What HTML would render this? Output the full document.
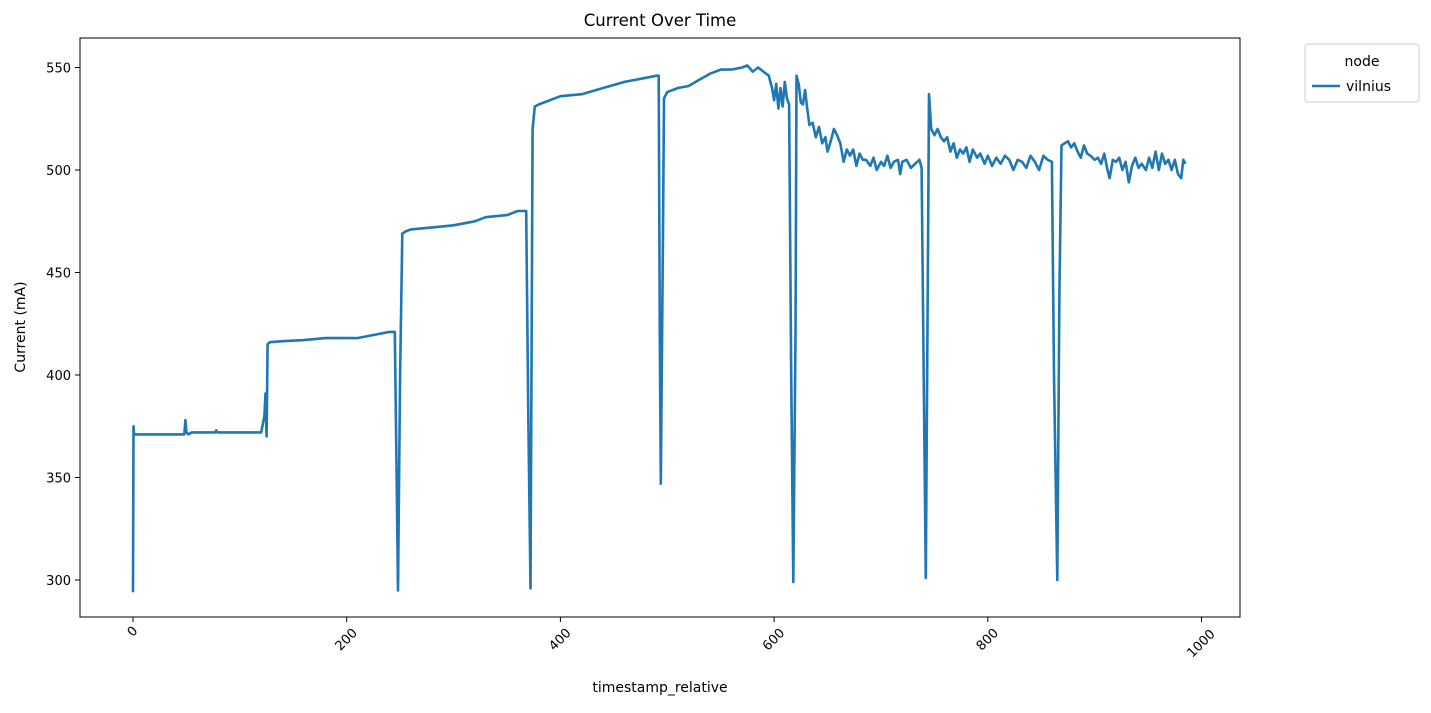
<!DOCTYPE html>
<html><head><meta charset="utf-8"><style>
body{margin:0;background:#fff;font-family:"Liberation Sans","DejaVu Sans",sans-serif;}
svg text{font-family:"DejaVu Sans","Liberation Sans",sans-serif;fill:#000;}
</style></head><body>
<svg id="chart" width="1431" height="708" xmlns="http://www.w3.org/2000/svg">
<rect width="1431" height="708" fill="#fff"/>
<text x="660" y="26" font-size="16.5" text-anchor="middle">Current Over Time</text>
<g id="axes"></g>
<path id="series" fill="none" stroke="#1f77b4" stroke-width="2.6" stroke-linejoin="round"/>
<rect x="80" y="38" width="1160" height="579" fill="none" stroke="#000" stroke-width="1"/>
<text x="660" y="692" font-size="14" text-anchor="middle">timestamp_relative</text>
<text transform="translate(25,327) rotate(-90)" font-size="14" text-anchor="middle">Current (mA)</text>
<g>
<rect x="1305" y="44" width="114" height="58" rx="3" fill="#fff" stroke="#ccc"/>
<text x="1362" y="66" font-size="14" text-anchor="middle">node</text>
<line x1="1312" y1="86" x2="1340" y2="86" stroke="#1f77b4" stroke-width="2.6"/>
<text x="1346" y="91" font-size="14">vilnius</text>
</g>
</svg>
<script>
const xTicks=[0,200,400,600,800,1000];
const yTicks=[300,350,400,450,500,550];
const times=[0,0.5,1,48,49,50,52,55,77,78,79,120,123,124,125,126,128,140,160,180,210,220,230,240,245,247,248,250,252,255,260,280,300,320,330,350,360,368,370,372,374,376,380,400,420,440,460,480,490,492,493,494,496,497,500,510,520,530,540,550,560,570,575,580,585,590,595,598,600,602,604,606,608,610,612,614,616,618,620,621,623,625,627,629,631,633,636,639,642,645,648,650,653,656,659,662,665,668,671,674,677,680,683,686,690,693,696,700,703,706,709,712,716,718,720,724,728,732,736,738,740,742,744,745,747,750,753,756,759,762,765,768,771,774,777,780,783,786,790,793,797,800,804,808,812,816,820,824,828,832,836,840,844,848,852,856,860,862,865,867,869,872,875,878,881,884,887,890,893,896,900,903,906,909,912,914,917,920,923,926,929,932,935,938,941,944,948,951,954,957,960,963,966,969,972,975,978,981,983,985];
const current=[294,375,371,371,378,372,371,372,372,373,372,372,380,391,370,415,416,416.5,417,418,418,419,420,421,421,340,295,400,469,470,471,472,473,475,477,478,480,480,380,296,520,531,532,536,537,540,543,545,546,546,420,347,470,535,538,540,541,544,547,549,549,550,551,548,550,548,546,540,534,542,530,540,531,543,535,532,400,299,420,546,542,533,532,539,530,522,523,516,521,513,516,509,514,520,517,513,504,510,507,510,502,508,505,505,502,506,500,504,502,507,501,504,505,498,504,505,501,503,505,501,400,301,460,537,520,517,520,516,514,516,509,513,506,510,508,511,504,510,506,508,503,507,502,506,503,507,505,500,505,504,501,507,504,500,507,505,504,400,300,440,512,513,514,511,513,509,506,512,508,507,505,506,503,508,500,496,505,504,506,500,504,494,502,506,501,503,500,506,501,509,500,508,503,505,500,505,498,496,505,503];
const X=t=>133+t*1.0685;
const Y=v=>170-(v-500)*2.05;
const ns="http://www.w3.org/2000/svg";
const axes=document.getElementById('axes');
xTicks.forEach(t=>{
  const l=document.createElementNS(ns,'line');
  
  
  l.setAttribute('x1',X(t));l.setAttribute('x2',X(t));l.setAttribute('y1',617);l.setAttribute('y2',622);l.setAttribute('stroke','#000');
  axes.appendChild(l);
  const tx=document.createElementNS(ns,'text');
  
  
  tx.setAttribute('font-size','13');tx.setAttribute('text-anchor','middle');
  tx.setAttribute('dominant-baseline','central');
  tx.setAttribute('transform','translate('+X(t)+','+(628+String(t).length*4)+') rotate(-45)');
  tx.textContent=t;axes.appendChild(tx);
});
yTicks.forEach(v=>{
  const l=document.createElementNS(ns,'line');
  
  
  l.setAttribute('x1',75);l.setAttribute('x2',80);l.setAttribute('y1',Y(v));l.setAttribute('y2',Y(v));l.setAttribute('stroke','#000');
  axes.appendChild(l);
  const tx=document.createElementNS(ns,'text');
  
  
  tx.setAttribute('font-size','13');tx.setAttribute('text-anchor','end');
  tx.setAttribute('x',71);tx.setAttribute('y',Y(v)+5);
  tx.textContent=v;axes.appendChild(tx);
});
document.getElementById('series').setAttribute('d',times.map((t,i)=>(i?'L':'M')+X(t).toFixed(1)+','+Y(current[i]).toFixed(1)).join(''));
</script>
</body></html>
